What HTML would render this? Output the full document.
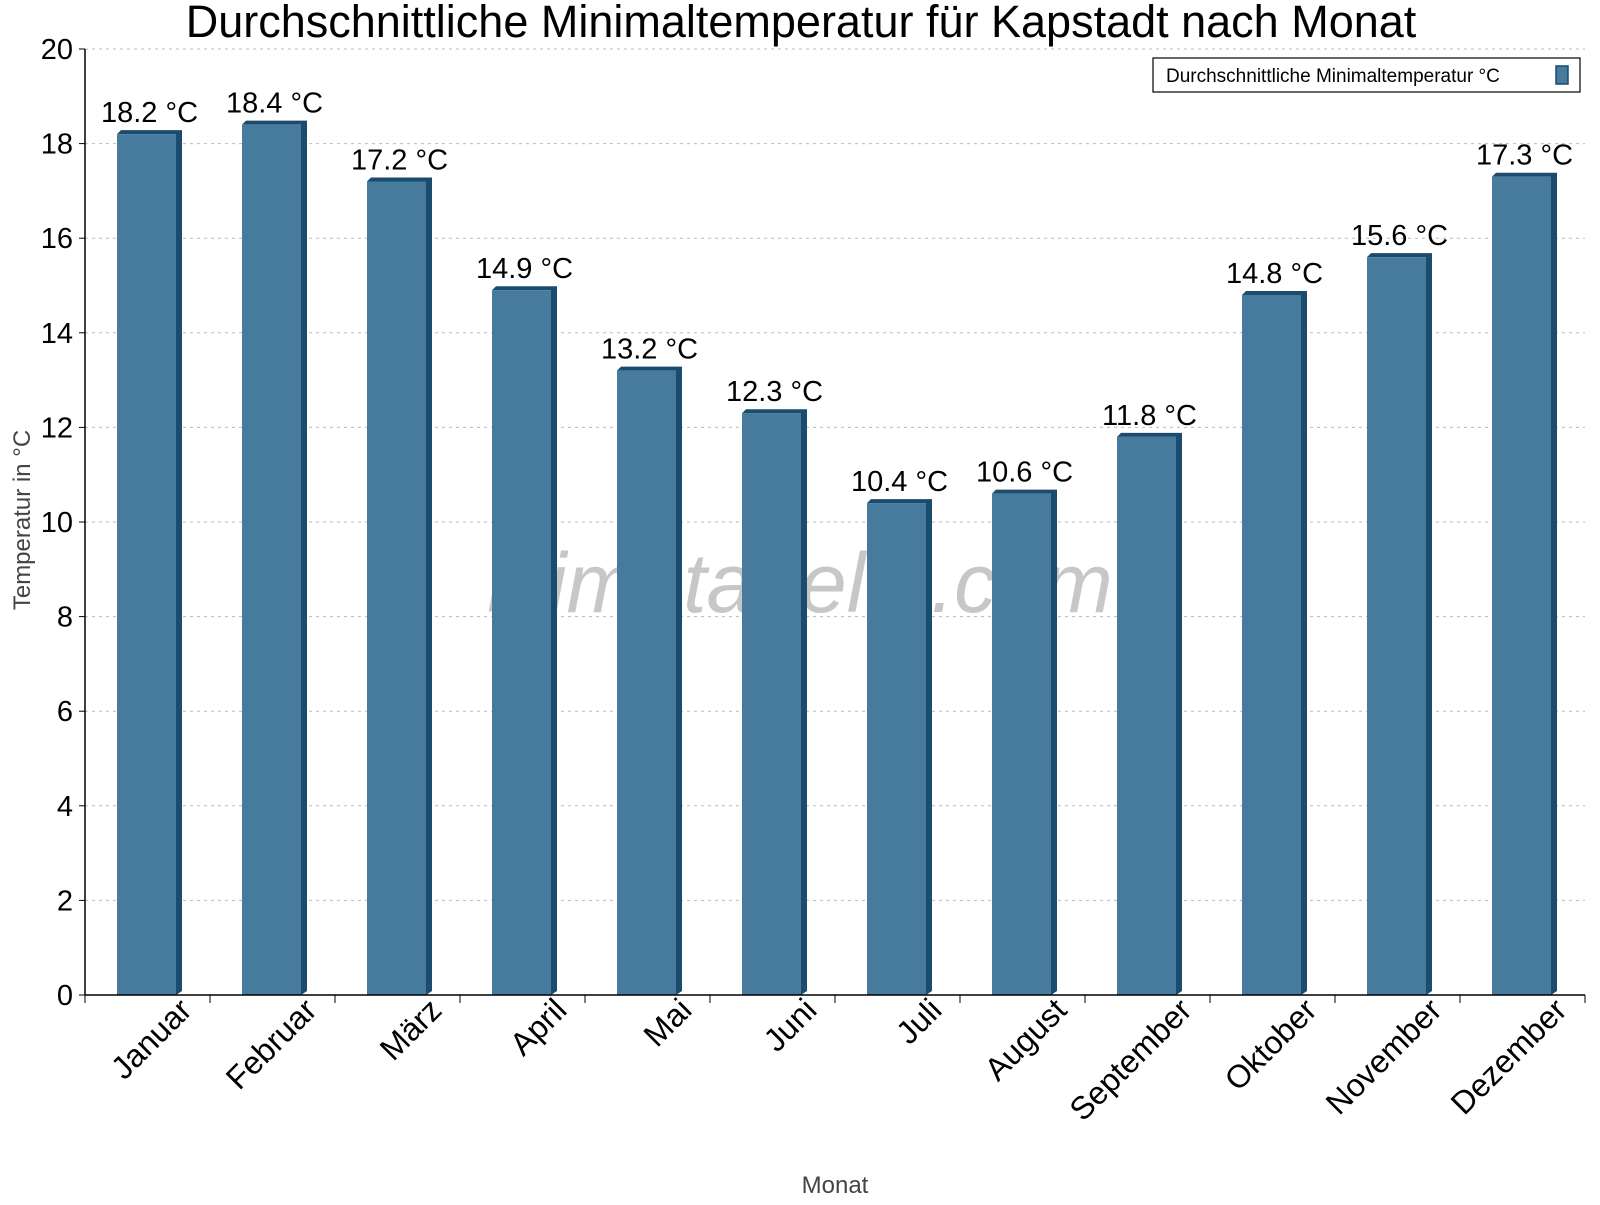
<!DOCTYPE html>
<html><head><meta charset="utf-8"><style>
body{margin:0;background:#fff}
text{font-family:"Liberation Sans",Arial,sans-serif}
</style></head><body>
<svg id="chart" width="1600" height="1200" xmlns="http://www.w3.org/2000/svg">
<text x="801" y="37" font-size="45" text-anchor="middle">Durchschnittliche Minimaltemperatur für Kapstadt nach Monat</text>
<g id="grid"></g>
<text x="800" y="612" font-size="84" font-style="italic" fill="#000" fill-opacity="0.22" text-anchor="middle">klimatabelle.com</text>
<g id="bars"></g>
<g id="axes"></g>
<text transform="translate(30,520) rotate(-90)" font-size="24" fill="#444" text-anchor="middle">Temperatur in °C</text>
<text x="835" y="1193" font-size="24" fill="#444" text-anchor="middle">Monat</text>
<g>
<rect x="1153" y="58" width="427" height="34" fill="#fff" stroke="#000" stroke-width="1.2"/>
<text x="1166" y="82" font-size="19">Durchschnittliche Minimaltemperatur °C</text>
<rect x="1556" y="66" width="12" height="18" fill="#467b9d" stroke="#1a4a6a" stroke-width="1.5"/>
</g>
</svg>
<script>
const categories=["Januar","Februar","März","April","Mai","Juni","Juli","August","September","Oktober","November","Dezember"];
const values=[18.2,18.4,17.2,14.9,13.2,12.3,10.4,10.6,11.8,14.8,15.6,17.3];
const yTicks=[0,2,4,6,8,10,12,14,16,18,20];
const NS="http://www.w3.org/2000/svg";
const x0=85,step=125,y0=995,y1=49,ymax=20;
const y=v=>y0-(v/ymax)*(y0-y1);
const cx=i=>x0+step*(i+0.5);
function mk(tag,attrs,parent){const e=document.createElementNS(NS,tag);for(const k in attrs)e.setAttribute(k,attrs[k]);parent.appendChild(e);return e;}
const grid=document.getElementById('grid'),bars=document.getElementById('bars'),axes=document.getElementById('axes');
yTicks.forEach(t=>{
 if(t>0){const g=mk('line',{x1:x0,x2:1585,y1:y(t),y2:y(t),stroke:'#bbb','stroke-dasharray':'3,4'},grid);
 
 }
 const tk=mk('line',{x1:x0-6,x2:x0,y1:y(t),y2:y(t),stroke:'#000'},axes);
 
 
 const lb=mk('text',{x:x0-12,y:y(t)+10,'font-size':29,'text-anchor':'end'},axes);
 lb.textContent=t;
 
 
});
values.forEach((v,i)=>{
 const c=cx(i),left=c-30.5,w=59,top=y(v);
 const g=mk('g',{},bars);
 
 
 mk('polygon',{points:`${left},${top} ${left+4},${top-4} ${left+w+6},${top-4} ${left+w+6},${y0-4} ${left+w},${y0} ${left+w},${top}`,fill:'#1b4b6d'},g);
 mk('rect',{x:left,y:top,width:w,height:y0-top,fill:'#467b9d'},g);
 const t=mk('text',{x:c+2,y:top-12,'font-size':29,'text-anchor':'middle'},g);
 t.textContent=v.toFixed(1)+' °C';
 
 
 const xl=mk('text',{transform:`translate(${c+46},1012) rotate(-45)`,'font-size':32,'text-anchor':'end'},axes);
 xl.textContent=categories[i];
 
 
});
for(let i=0;i<=12;i++){const tk=mk('line',{x1:x0+step*i,x2:x0+step*i,y1:y0,y2:y0+8,stroke:'#000'},axes);
 
 }
const xa=mk('line',{x1:x0,x2:1585,y1:y0,y2:y0,stroke:'#000','stroke-width':1.5},axes);


const ya=mk('line',{x1:x0,x2:x0,y1:y1,y2:y0,stroke:'#000','stroke-width':1.5},axes);


</script>
</body></html>
